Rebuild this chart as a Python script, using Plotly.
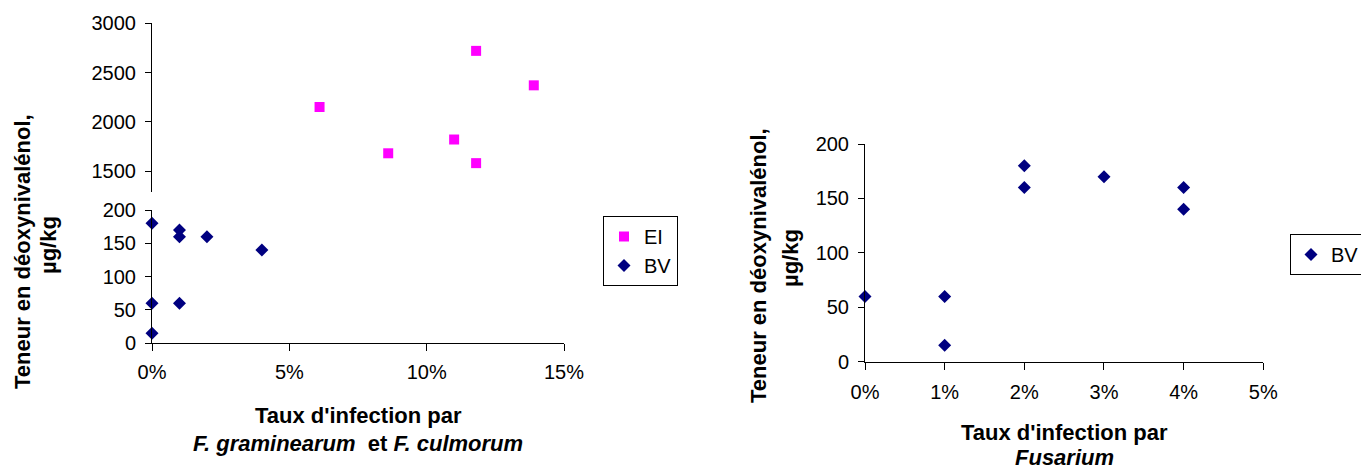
import plotly.graph_objects as go

W, H = 1361, 470

# Left chart: infection by F. graminearum and F. culmorum
ei_x = [0.061, 0.086, 0.110, 0.118, 0.118, 0.139]
ei_y = [2150, 1680, 1820, 2720, 1580, 2370]
bv_left_x = [0.0, 0.0, 0.0, 0.01, 0.01, 0.01, 0.02, 0.04]
bv_left_y = [180, 60, 15, 170, 160, 60, 160, 140]

# Right chart: infection by Fusarium
bv_right_x = [0.0, 0.01, 0.01, 0.02, 0.02, 0.03, 0.04, 0.04]
bv_right_y = [60, 60, 15, 180, 160, 170, 160, 140]

FONT = "Liberation Sans, Arial, sans-serif"
NAVY = "#000080"
MAGENTA = "#FF00FF"


def px(x):
    return x / W


def py(y):
    return (H - y) / H


fig = go.Figure()

fig.add_trace(go.Scatter(
    x=ei_x, y=ei_y, xaxis="x", yaxis="y2", mode="markers", name="EI",
    marker=dict(symbol="square", size=10, color=MAGENTA),
    cliponaxis=False, legend="legend",
))
fig.add_trace(go.Scatter(
    x=bv_left_x, y=bv_left_y, xaxis="x", yaxis="y", mode="markers", name="BV",
    marker=dict(symbol="diamond", size=10, color=NAVY),
    cliponaxis=False, legend="legend",
))
fig.add_trace(go.Scatter(
    x=bv_right_x, y=bv_right_y, xaxis="x2", yaxis="y3", mode="markers", name="BV",
    marker=dict(symbol="diamond", size=10, color=NAVY),
    cliponaxis=False, legend="legend2",
))

axis_common = dict(
    showline=True, linecolor="black", linewidth=1,
    ticks="outside", ticklen=6, tickcolor="black", tickwidth=1,
    showgrid=False, zeroline=False, automargin=False,
    tickfont=dict(family=FONT, size=20, color="black"),
)

fig.update_layout(
    width=W, height=H,
    margin=dict(l=0, r=0, t=0, b=0, autoexpand=False),
    paper_bgcolor="white", plot_bgcolor="white",
    font=dict(family=FONT, size=20, color="black"),
    xaxis=dict(axis_common, domain=[px(152), px(564)], range=[0, 0.15],
               dtick=0.05, tickformat=".0%", anchor="y", ticklen=7,
               ticklabelstandoff=4),
    yaxis=dict(axis_common, domain=[py(343.3), py(210)], range=[0, 200],
               dtick=50, anchor="x", ticklabelstandoff=5),
    yaxis2=dict(axis_common, domain=[py(191.7), py(23.3)], range=[1290, 3000],
                tickvals=[1500, 2000, 2500, 3000], anchor="x",
                ticklabelstandoff=5),
    xaxis2=dict(axis_common, domain=[px(865), px(1263.3)], range=[0, 0.05],
                dtick=0.01, tickformat=".0%", anchor="y3", ticklen=7,
                ticklabelstandoff=5),
    yaxis3=dict(axis_common, domain=[py(361.7), py(144)], range=[0, 200],
                dtick=50, anchor="x2", ticklabelstandoff=5),
    legend=dict(x=px(603), y=py(216), xanchor="left", yanchor="top",
                bordercolor="black", borderwidth=1, bgcolor="white",
                font=dict(family=FONT, size=20, color="black"),
                itemwidth=30),
    legend2=dict(x=px(1290), y=py(234), xanchor="left", yanchor="top",
                 bordercolor="black", borderwidth=1, bgcolor="white",
                 font=dict(family=FONT, size=20, color="black"),
                 itemwidth=30),
)

title_font = dict(family=FONT, size=22, color="black")
annots = [
    # left x title
    (358, 415, "<b>Taux d'infection par</b>", 0),
    (358, 443, "<b><i>F. graminearum</i>\u00a0 et <i>F. culmorum</i></b>", 0),
    # right x title
    (1064, 432, "<b>Taux d'infection par</b>", 0),
    (1064, 457, "<b><i>Fusarium</i></b>", 0),
    # left y title
    (22, 252, "<b>Teneur en déoxynivalénol,</b>", -90),
    (49, 245, "<b>µg/kg</b>", -90),
    # right y title
    (758, 266, "<b>Teneur en déoxynivalénol,</b>", -90),
    (790, 258, "<b>µg/kg</b>", -90),
]
for x, y, text, ang in annots:
    fig.add_annotation(xref="paper", yref="paper", x=px(x), y=py(y),
                       text=text, textangle=ang, showarrow=False,
                       xanchor="center", yanchor="middle", font=title_font)

# drop the default page margin so the figure sits at the window origin
fig.write_html("out.html",
               config={"displayModeBar": False},
               post_script="document.body.style.margin='0';"
                           "document.body.style.overflow='hidden';")
